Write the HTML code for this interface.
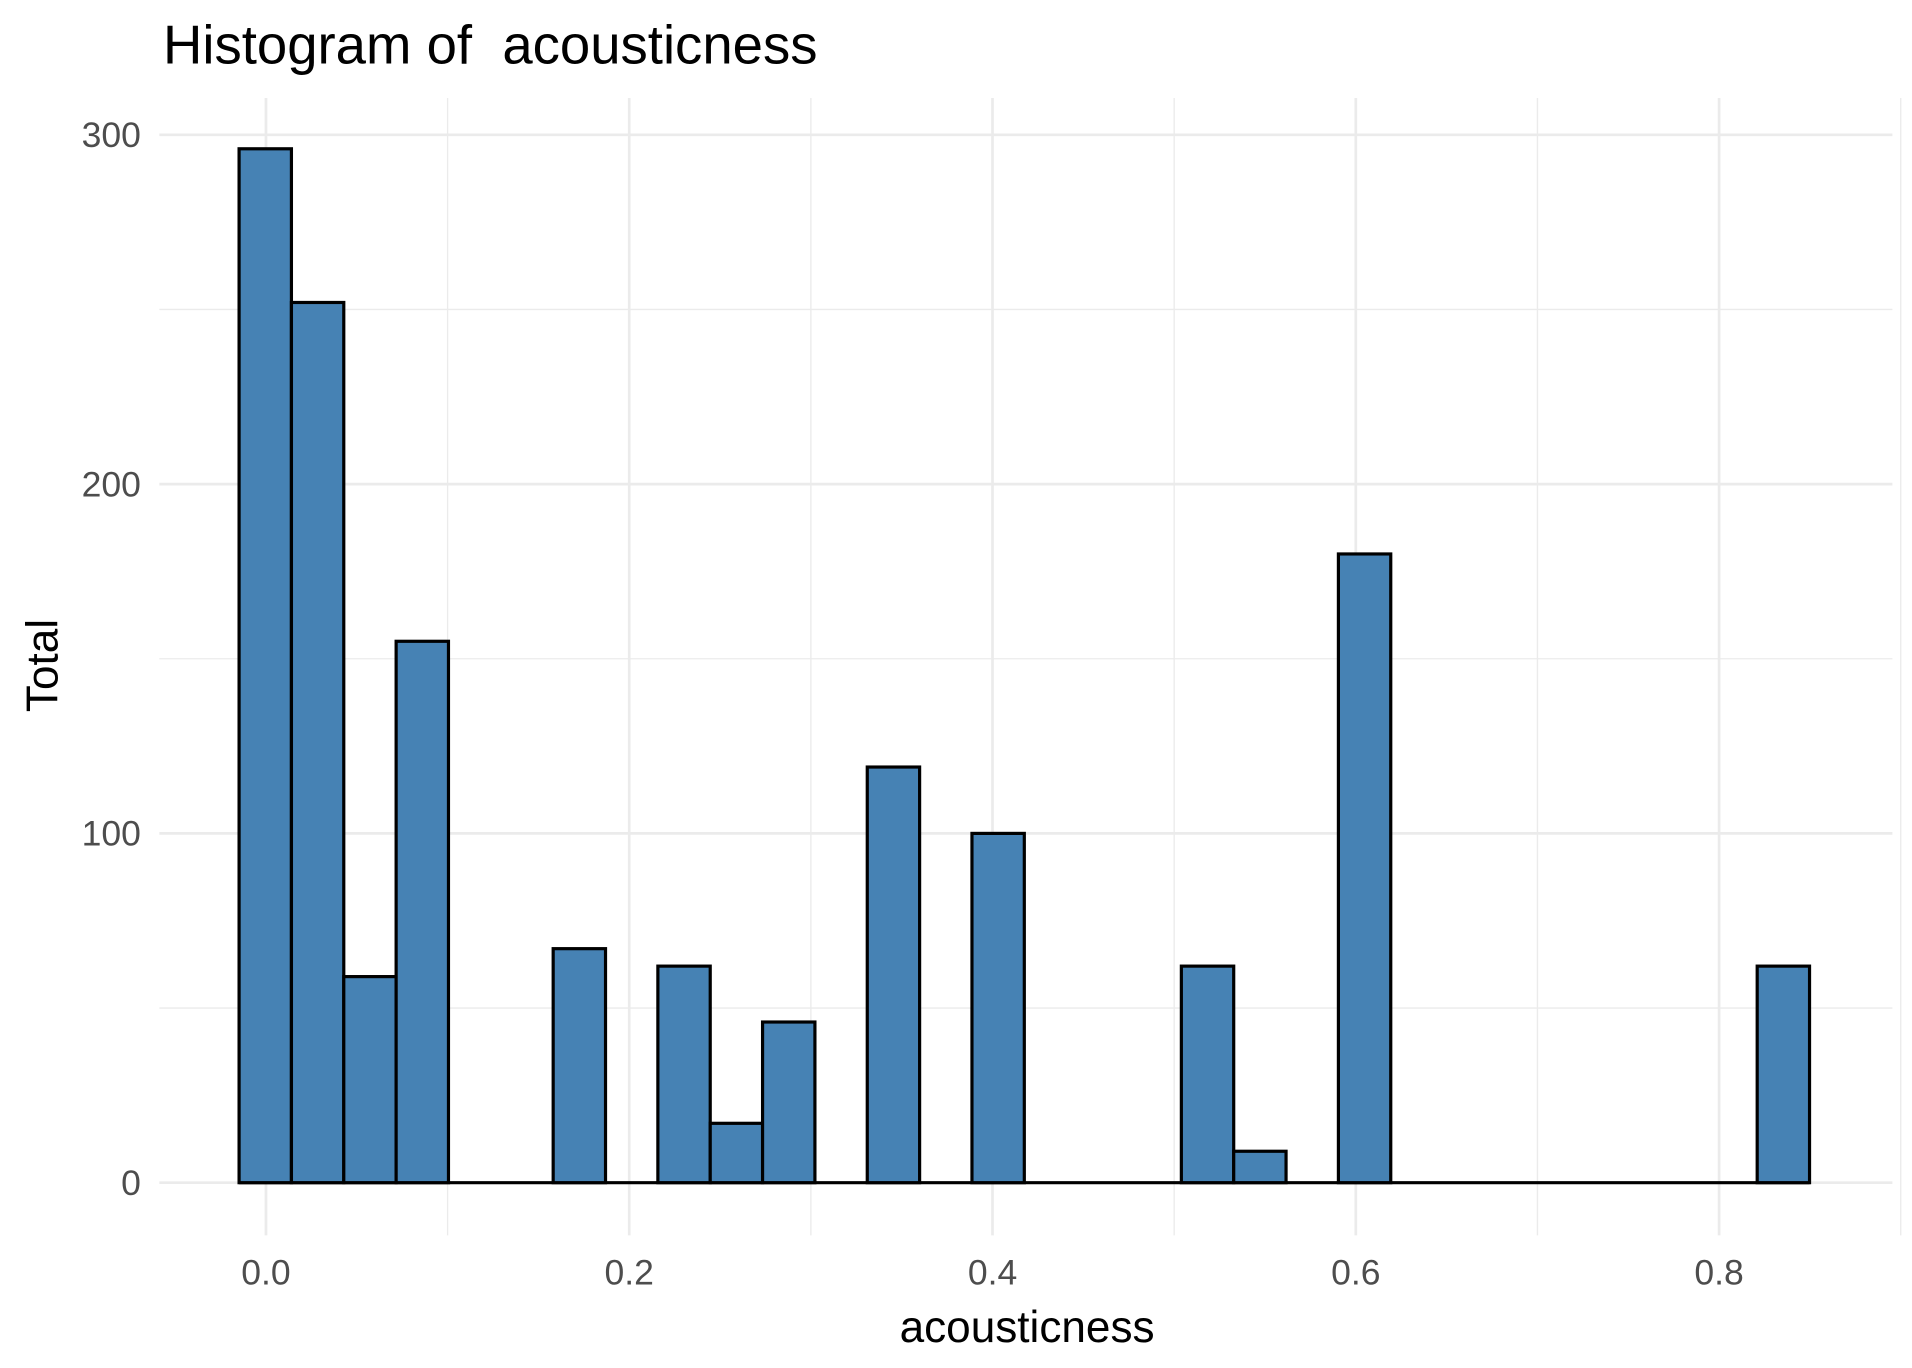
<!DOCTYPE html>
<html><head><meta charset="utf-8"><style>
html,body{margin:0;padding:0;background:#fff;}
svg{display:block;font-family:"Liberation Sans",Arial,sans-serif;}
</style></head><body>
<svg id="chart" width="1912" height="1368" viewBox="0 0 1560 1116.2" preserveAspectRatio="none" xmlns="http://www.w3.org/2000/svg">
<rect width="1560" height="1116.2" fill="#fff"/>
<g id="grid"></g>
<g id="bars"></g>
<g id="axes"></g>
<text x="133" y="52" font-size="44.5" fill="#000" xml:space="preserve" style="white-space:pre">Histogram of  acousticness</text>
<text x="838" y="1095" font-size="36" text-anchor="middle" fill="#000">acousticness</text>
<text transform="translate(47,543) rotate(-90)" font-size="36" text-anchor="middle" fill="#000">Total</text>
</svg>
<script>
const counts = [296,252,59,155,0,0,67,0,62,17,46,0,119,0,100,0,0,0,62,9,0,180,0,0,0,0,0,0,0,62];
const binStart = -0.0148;
const binWidth = 0.02882;
const xTicks = [0,0.2,0.4,0.6,0.8];
const xTickLabels = ["0.0","0.2","0.4","0.6","0.8"];
const yTicks = [0,100,200,300];
const yTickLabels = ["0","100","200","300"];

const NS = "http://www.w3.org/2000/svg";
function X(v){ return 217 + v*1482; }
function Y(v){ return 965 - v*2.85; }
function mk(tag, attrs, parent){ const e=document.createElementNS(NS,tag); for(const k in attrs) e.setAttribute(k,attrs[k]); parent.appendChild(e); return e; }

const grid=document.getElementById('grid');
const L=130, R=1544, T=80, B=1008;
for(let i=0;i<xTicks.length;i++){
  const v=xTicks[i];
  const g=mk('line',{x1:X(v),x2:X(v),y1:T,y2:B,stroke:'#ebebeb','stroke-width':2.2},grid);
  
  
  const m=mk('line',{x1:X(v+0.1),x2:X(v+0.1),y1:T,y2:B,stroke:'#ebebeb','stroke-width':1.1},grid);
  
  
}
for(let i=0;i<yTicks.length;i++){
  const v=yTicks[i];
  const g=mk('line',{x1:L,x2:R,y1:Y(v),y2:Y(v),stroke:'#ebebeb','stroke-width':2.2},grid);
  
  
  if(i<yTicks.length-1){
    const m=mk('line',{x1:L,x2:R,y1:Y(v+50),y2:Y(v+50),stroke:'#ebebeb','stroke-width':1.1},grid);
    
    
  }
}
const bars=document.getElementById('bars');
const base=mk('line',{x1:X(binStart),x2:X(binStart+counts.length*binWidth),y1:Y(0),y2:Y(0),stroke:'#000','stroke-width':2.6},bars);


for(let i=0;i<counts.length;i++){
  if(counts[i]<=0) continue;
  const x0=X(binStart+i*binWidth), x1=X(binStart+(i+1)*binWidth);
  const r=mk('rect',{x:x0,y:Y(counts[i]),width:x1-x0,height:Y(0)-Y(counts[i]),fill:'#4682b4',stroke:'#000','stroke-width':2.6},bars);
  
  
}
const axes=document.getElementById('axes');
for(let i=0;i<xTicks.length;i++){
  const t=mk('text',{x:X(xTicks[i]),y:1048,'font-size':29,'text-anchor':'middle',fill:'#4d4d4d'},axes);
  t.textContent=xTickLabels[i];
  
  
}
for(let i=0;i<yTicks.length;i++){
  const t=mk('text',{x:115,y:Y(yTicks[i])+10,'font-size':29,'text-anchor':'end',fill:'#4d4d4d'},axes);
  t.textContent=yTickLabels[i];
  
  
}
</script>
</body></html>
